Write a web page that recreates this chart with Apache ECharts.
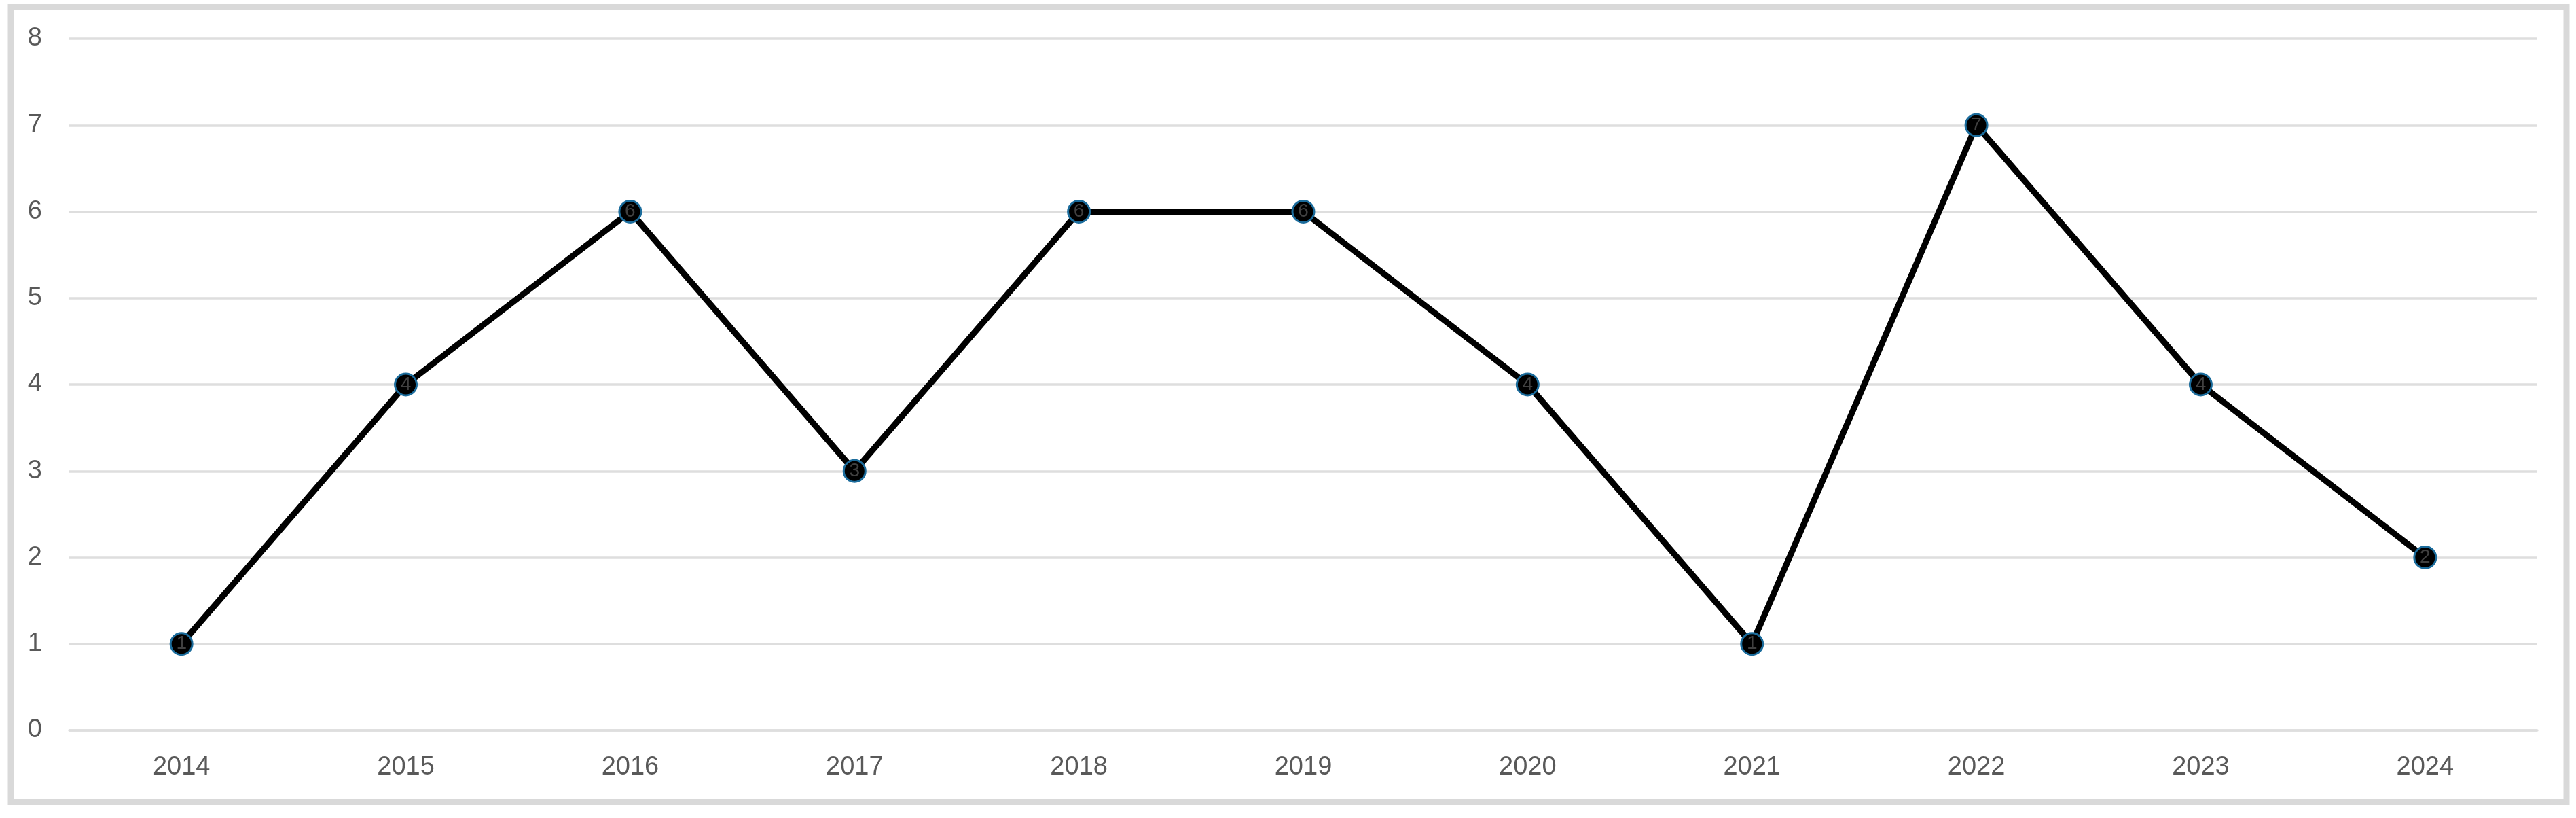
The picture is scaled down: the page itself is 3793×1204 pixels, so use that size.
<!DOCTYPE html>
<html>
<head>
<meta charset="utf-8">
<script src="https://cdn.jsdelivr.net/npm/echarts@6/dist/echarts.min.js"></script>
<style>
  html, body { margin: 0; padding: 0; background: #fff; }
  #chart { width: 3793px; height: 1204px; }
</style>
</head>
<body>
<div id="chart"></div>
<script>
  // categories and values
  var years = ['2014', '2015', '2016', '2017', '2018', '2019', '2020', '2021', '2022', '2023', '2024']
  var counts = [1, 4, 6, 3, 6, 6, 4, 1, 7, 4, 2]
  var yTicks = [0, 1, 2, 3, 4, 5, 6, 7, 8]

  var labelColor = '#595959'
  var gridColor = '#dedede'
  var font = '"Liberation Sans", Arial, sans-serif'

  var chart = echarts.init(document.getElementById('chart'))
  chart.setOption({
    backgroundColor: '#fff',
    animation: false,
    // outer frame of the chart area
    graphic: [{
      type: 'rect',
      shape: { x: 16, y: 10.5, width: 3763, height: 1170 },
      style: { fill: 'none', stroke: '#d9d9d9', lineWidth: 9 },
      silent: true
    }],
    grid: {
      left: 102,
      right: 57,
      top: 57,
      bottom: 129
    },
    xAxis: {
      type: 'category',
      data: years,
      boundaryGap: true,
      axisLine: { show: true, lineStyle: { color: gridColor, width: 3.5 } },
      axisTick: { show: false },
      axisLabel: {
        color: labelColor,
        fontSize: 38,
        fontFamily: font,
        margin: 36
      }
    },
    yAxis: {
      type: 'value',
      min: yTicks[0],
      max: yTicks[yTicks.length - 1],
      interval: 1,
      axisLine: { show: false },
      axisTick: { show: false },
      splitLine: { lineStyle: { color: gridColor, width: 3.5 } },
      axisLabel: {
        color: labelColor,
        fontSize: 38,
        fontFamily: font,
        margin: 40
      }
    },
    series: [{
      type: 'line',
      data: counts,
      symbol: 'circle',
      symbolSize: 32,
      lineStyle: { color: '#000', width: 9 },
      itemStyle: { color: '#000', borderColor: '#1b6c9c', borderWidth: 3 },
      label: {
        show: true,
        position: 'inside',
        color: '#404040',
        fontSize: 28,
        fontFamily: font
      },
      z: 3
    }]
  })
</script>
</body>
</html>
